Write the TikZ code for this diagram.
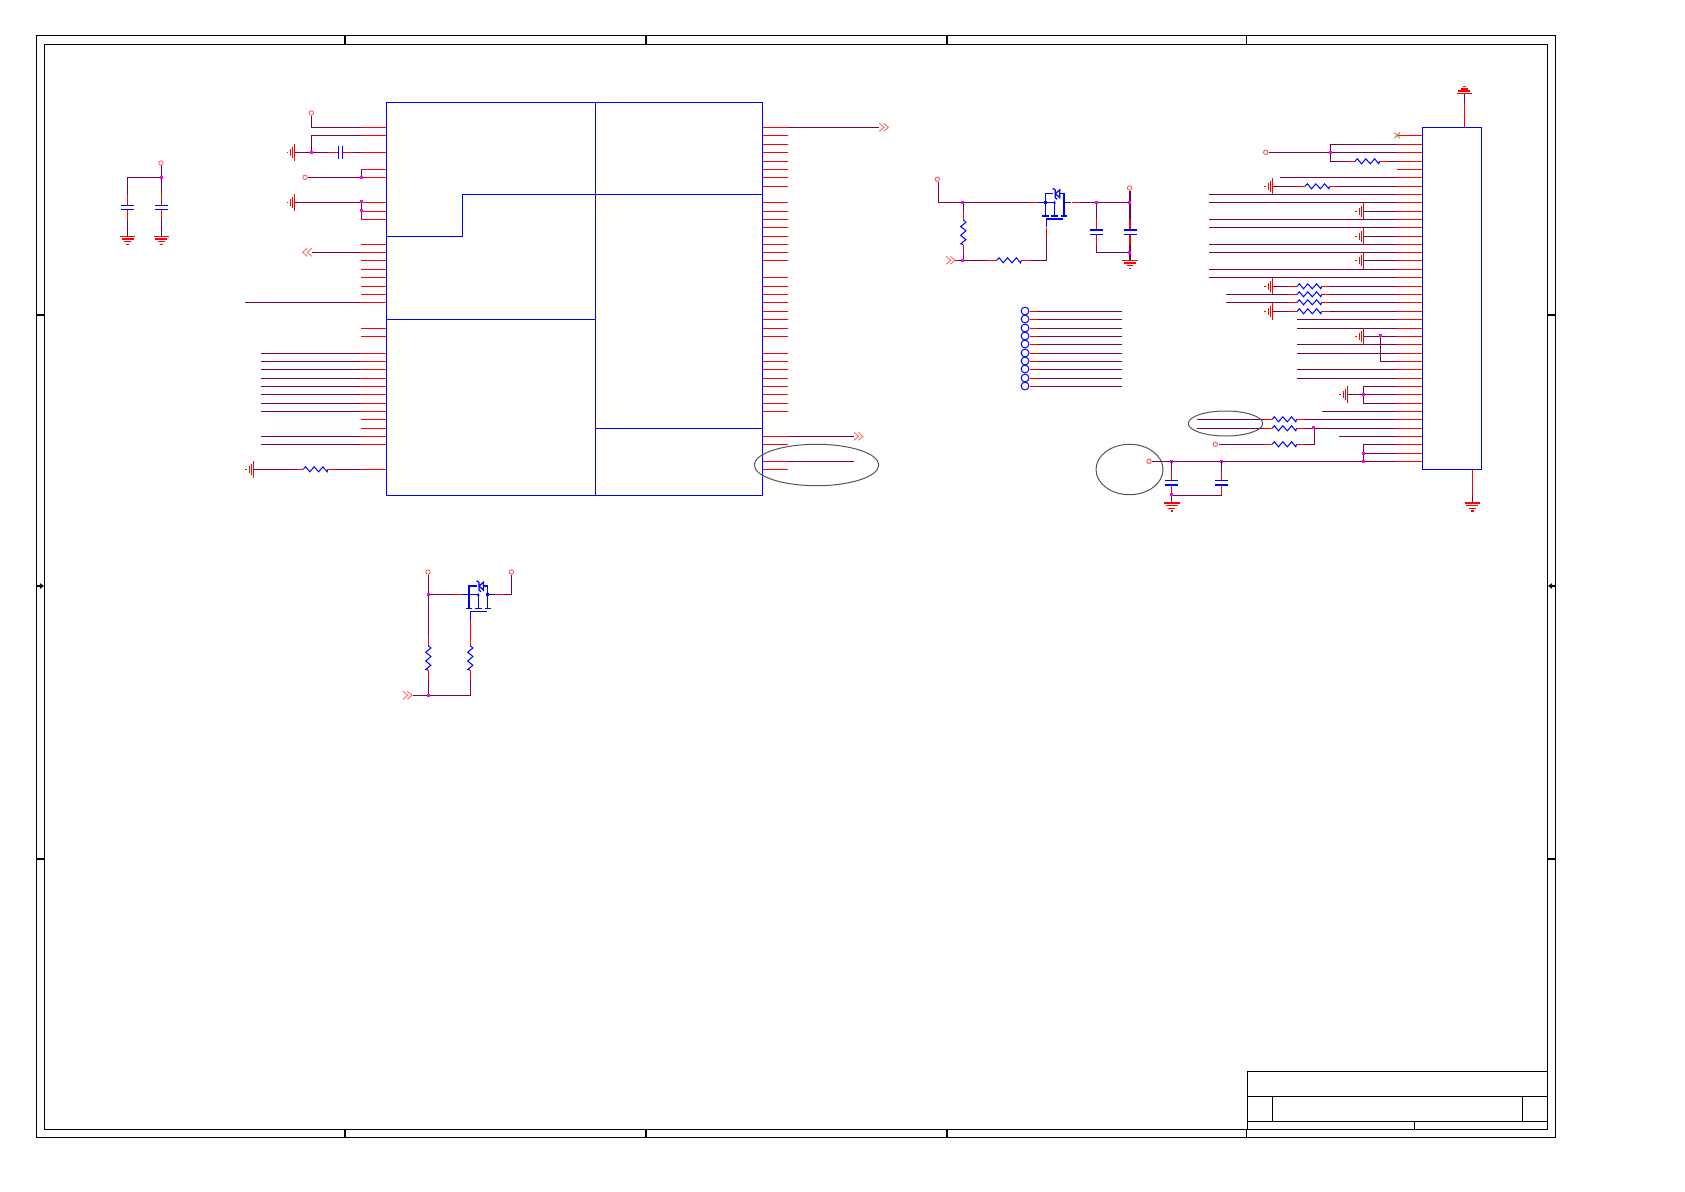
\documentclass[tikz,border=0pt]{standalone}
\definecolor{netc}{RGB}{122,0,72}
\definecolor{pinc}{RGB}{255,0,0}
\definecolor{partc}{RGB}{0,0,255}
\definecolor{dotc}{RGB}{255,0,255}
\definecolor{markc}{RGB}{255,90,90}
\definecolor{loopc}{RGB}{85,85,85}
\tikzset{
  x=1pt,y=-1pt,
  frameln/.style={draw=black,line width=1.25pt},
  net/.style={draw=netc,line width=1.25pt},
  pinln/.style={draw=pinc,line width=1.25pt},
  part/.style={draw=partc,line width=1.25pt},
  loopln/.style={draw=loopc,line width=1pt},
  hres/.pic={
    \fill[white] (-.5,-1.2) rectangle (25,1.2);
    \draw[pinln] (-8.3,0)--(0,0) (24.5,0)--(32.8,0);
    \draw[part,line width=1pt] (0,0)--(2.3,-2.5)--(6.5,2.5)--(10.8,-2.5)--(15.3,2.5)--(19.6,-2.5)--(23.8,2.5)--(24.5,0);},
  vres/.pic={
    \fill[white] (-1.2,-.5) rectangle (1.2,25);
    \draw[pinln] (0,-8.3)--(0,0) (0,24.5)--(0,32.8);
    \draw[part,line width=1pt] (0,0)--(2.6,2.3)--(-2.6,6.5)--(2.6,10.8)--(-2.6,15.3)--(2.6,19.6)--(-2.6,23.8)--(0,24.5);},
  vcap/.pic={
    \fill[white] (-1.2,0) rectangle (1.2,4.5);
    \draw[pinln] (0,-11)--(0,0) (0,4.5)--(0,14.5);
    \draw[part] (-6.5,0)--(6.5,0) (-6.5,4.5)--(6.5,4.5);},
  hcap/.pic={
    \fill[white] (0,-1.2) rectangle (4,1.2);
    \draw[pinln] (-10.6,0)--(0,0) (4,0)--(14.4,0);
    \draw[part] (0,-6.5)--(0,6.5) (4,-6.5)--(4,6.5);},
  gnddown/.pic={
    \draw[pinln] (-7.8,0)--(7.8,0) (-6,2.6)--(6,2.6) (-3.3,5.2)--(3.3,5.2) (-1.2,8)--(1.2,8);},
  gndup/.pic={
    \draw[pinln] (-7.8,0)--(7.8,0) (-6,-2.2)--(6,-2.2) (-3.3,-4.2)--(3.3,-4.2) (-1.2,-7)--(1.2,-7);},
  gndleft/.pic={
    \draw[pinln] (0,-8.3)--(0,8.3) (-2,-5.7)--(-2,5.7) (-4,-3.2)--(-4,3.2) (-7.3,-.8)--(-7.3,.8);},
  pwr/.pic={\draw[draw=markc,line width=.9pt] (0,0) circle (2.2);},
  chevleft/.pic={\draw[draw=markc,line width=.8pt] (4.7,-4)--(0,0)--(4.7,4) (9.3,-4)--(4.7,0)--(9.3,4);},
  chevright/.pic={\draw[draw=markc,line width=.8pt] (0,-4)--(4.7,0)--(0,4) (4.3,-4)--(9,0)--(4.3,4);},
  dotj/.pic={\fill[dotc] (-1.5,-1.5) rectangle (1.5,1.5);},
  dotb/.pic={\fill[partc] (-1.4,-1.4) rectangle (1.4,1.4);},
  pmos/.pic={
    \draw[part] (0,13.7)--(0,-8.7)--(7.5,-8.7) (13.5,-8.7)--(18.7,-8.7)--(18.7,13.7)
      (0,0)--(9.3,0)--(9.3,13.7) (18.7,0)--(26,0)
      (-3.2,13.7)--(3.2,13.7) (6.1,13.7)--(12.5,13.7) (15.5,13.7)--(21.9,13.7)
      (1.3,25)--(1.3,16.7)--(17.7,16.7);
    \draw[part] (7.5,-14)--(10,-12.3)--(10,-4.5)--(12,-3)
      (10,-8.7)--(14.5,-12.5)--(14.5,-4.5)--cycle;
    \pic at (0,0) {dotb}; \pic at (18.7,0) {dotb};
    \fill[partc] (9.3,-1.8)--(8,1.4)--(10.6,1.4)--cycle;},
}
\newcommand{\hw}[3]{\draw[net] (#1,#3)--(#2,#3);}
\newcommand{\lpin}[1]{\draw[pinln] (361,#1)--(386.3,#1);}
\newcommand{\rpin}[1]{\draw[pinln] (762.3,#1)--(787.7,#1);}
\newcommand{\cpin}[1]{\draw[pinln] (1397,#1)--(1422.3,#1);}
\begin{document}
\begin{tikzpicture}
\useasboundingbox (0,0) rectangle (1685,1191);
\fill[white] (0,0) rectangle (1685,1191);

% ---------- sheet frame
\draw[frameln] (36.4,35.3) rectangle (1555.3,1137.3);
\draw[frameln] (44.3,44.3) rectangle (1547.7,1129.3);
\foreach \tx in {345,646,947,1246.5}{
  \draw[frameln] (\tx,35.3)--(\tx,44.3) (\tx,1129.3)--(\tx,1137.3);}
\foreach \ty in {315,859}{
  \draw[frameln] (36.4,\ty)--(44.3,\ty) (1547.7,\ty)--(1555.3,\ty);}
\draw[frameln] (36.4,586)--(41,586) (1551,586)--(1555.3,586);
\fill[black] (44,586)--(39.8,583)--(39.8,589)--cycle;
\fill[black] (1548,586)--(1552.2,583)--(1552.2,589)--cycle;
% title block
\draw[frameln] (1247.3,1071.3)--(1547.7,1071.3) (1247.3,1071.3)--(1247.3,1129.3)
  (1247.3,1096.3)--(1547.7,1096.3) (1247.3,1121.3)--(1547.7,1121.3)
  (1272.3,1096.3)--(1272.3,1121.3) (1522.3,1096.3)--(1522.3,1121.3)
  (1414.3,1121.3)--(1414.3,1129.3);

% ---------- decoupling pair, top left
\draw[net] (161.4,165)--(161.4,236.3) (127.5,236.3)--(127.5,177.3)--(161.4,177.3);
\pic at (127.5,205.3) {vcap}; \pic at (161.4,205.3) {vcap};
\pic at (127.5,236.3) {gnddown}; \pic at (161.4,236.3) {gnddown};
\pic at (161,163) {pwr}; \pic at (161,177.3) {dotj};

% ---------- main IC
\foreach \y in {127.3,135.3,152.3,169.3,177.3,202.3,211.3,219.3,244.3,252.3,260.3,269.3,277.3,286.3,294.3,302.3,328.3,336.3,353.3,361.3,369.3,378.3,386.3,394.3,403.3,411.3,419.3,428.3,436.3,444.3,469.3}{\lpin{\y}}
\foreach \v in {112,136,163,187,214,238,262,289,337,364,388,412,439,463,487,511,562,589,613,637,664,688,715,739,790,814,838,865,889,913,940,964,1039,1063,1114,1138}{\rpin{\fpeval{90.3+\v/3}}}
\draw[part] (386.3,102.3) rectangle (762.3,495.3);
\draw[part] (595.3,102.3)--(595.3,495.3)
  (386.3,236.3)--(462.3,236.3)--(462.3,194.3)--(762.3,194.3)
  (386.3,319.3)--(595.3,319.3) (595.3,428.3)--(762.3,428.3);

% left side nets
\draw[net] (311.3,115.5)--(311.3,127.3)--(361,127.3);
\draw[net] (361,135.3)--(311.3,135.3)--(311.3,152.3);
\draw[net] (294.7,152.3)--(361,152.3);
\pic at (294.7,152.3) {gndleft};
\pic at (338.3,152.3) {hcap};
\pic at (311.3,113) {pwr}; \pic at (311,152.3) {dotj};
\draw[net] (308,177.3)--(361.3,177.3) (361.3,169.3)--(361.3,177.3);
\pic at (305,177.3) {pwr}; \pic at (361.3,177.3) {dotj};
\draw[net] (294.7,202.3)--(361.3,202.3) (361.3,202.3)--(361.3,219.3);
\pic at (294.7,202.3) {gndleft};
\pic at (361.3,201.8) {dotj}; \pic at (361.3,210.5) {dotj};
\hw{311.5}{361}{252.3}
\pic at (302.5,252.3) {chevleft};
\hw{245}{361}{302.3}
\foreach \y in {353.3,361.3,369.3,378.3,386.3,394.3,403.3,411.3,436.3,444.3}{\hw{261}{361}{\y}}
\hw{253.3}{361}{469.3}
\pic at (253.3,469.3) {gndleft};
\pic at (303.3,469.3) {hres};

% right side nets
\hw{787.7}{879}{127.3}
\pic at (879.3,127.3) {chevright};
\hw{787.7}{854}{436.3}
\pic at (854,436.3) {chevright};
\hw{787.7}{854}{461.6}
\draw[loopln] (816.5,465) ellipse (62.2 and 20.7);

% ---------- top switch
\draw[net] (938.3,182)--(938.3,202.3)--(1030,202.3);
\draw[pinln] (1030,202.3)--(1038,202.3);
\draw[part] (1038,202.3)--(1045.3,202.3);
\pic at (937.3,179.3) {pwr};
\draw[net] (963.3,202.3)--(963.3,260.3);
\pic at (963.3,220) {vres};
\draw[net] (954.5,260.3)--(1046.3,260.3)--(1046.3,235.3);
\draw[pinln] (1046.3,235.3)--(1046.3,228);
\pic at (946,260.3) {chevright};
\pic at (996.7,260.3) {hres};
\pic at (962.8,202.3) {dotj}; \pic at (962.8,260.3) {dotj};
\pic at (1045.3,202.3) {pmos};
\draw[pinln] (1071.7,202.3)--(1080,202.3);
\draw[net] (1080,202.3)--(1130,202.3) (1130,191)--(1130,260.3)
  (1096.3,202.3)--(1096.3,252.3)--(1130,252.3);
\pic at (1096.3,230) {vcap}; \pic at (1130,230) {vcap};
\pic at (1129.5,188) {pwr};
\pic at (1096.3,202.3) {dotj}; \pic at (1129.3,202.3) {dotj}; \pic at (1129.3,252.3) {dotj};
\pic at (1130,260.3) {gnddown};

% ---------- test points
\foreach \y in {311.3,319.3,328.3,336.3,344.3,353.3,361.3,369.3,378.3,386.3}{
  \hw{1038}{1121.7}{\y}
  \draw[pinln] (1029.7,\y)--(1038,\y);
  \draw[part,line width=1pt] (1025,\y-.3) circle (3.9);}

% ---------- connector
\foreach \y in {135.3,144.3,152.3,161.3,169.3,177.3,186.3,194.3,202.3,211.3,219.3,227.3,236.3,244.3,252.3,260.3,269.3,277.3,286.3,294.3,302.3,311.3,319.3,328.3,336.3,344.3,353.3,361.3,369.3,378.3,386.3,394.3,403.3,411.3,419.3,428.3,436.3,444.3,453.3,461.3}{\cpin{\y}}
\draw[part] (1422.3,127.3) rectangle (1481.3,469.3);
\draw[net] (1464.3,93.3)--(1464.3,103);
\draw[pinln] (1464.3,103)--(1464.3,127.3);
\pic at (1464.3,93.3) {gndup};
\draw[net] (1472.3,495)--(1472.3,503);
\draw[pinln] (1472.3,469.3)--(1472.3,495);
\pic at (1472.3,503) {gnddown};
\draw[draw=brown,line width=.9pt] (1394.6,132.6)--(1400,138) (1394.6,138)--(1400,132.6);

\draw[net] (1397,144.3)--(1330.3,144.3)--(1330.3,161.3)--(1397,161.3);
\hw{1269}{1397}{152.3}
\pic at (1265.7,152.3) {pwr}; \pic at (1330.3,152.3) {dotj};
\pic at (1355,161.3) {hres};
\hw{1280}{1397}{177.3}
\hw{1272.3}{1397}{186.3}
\pic at (1272.3,186.3) {gndleft}; \pic at (1305,186.3) {hres};
\foreach \y in {194.3,202.3,219.3,227.3,244.3,252.3,269.3,277.3}{\hw{1209}{1397}{\y}}
\foreach \y in {211.3,236.3,260.3}{
  \hw{1363.3}{1397}{\y}
  \pic at (1363.3,\y) {gndleft};}
\hw{1272.3}{1397}{286.3}
\pic at (1272.3,286.3) {gndleft}; \pic at (1297,286.3) {hres};
\hw{1226}{1397}{294.3}
\pic at (1297,294.3) {hres};
\hw{1226}{1397}{302.3}
\pic at (1297,302.3) {hres};
\hw{1272.3}{1397}{311.3}
\pic at (1272.3,311.3) {gndleft}; \pic at (1297,311.3) {hres};
\foreach \y in {319.3,328.3,344.3,353.3,369.3,378.3}{\hw{1297}{1397}{\y}}
\hw{1363.3}{1397}{336.3}
\pic at (1363.3,336.3) {gndleft};
\draw[net] (1380.3,336.3)--(1380.3,361.3)--(1397,361.3);
\pic at (1380.3,335.5) {dotj};
\draw[net] (1397,386.3)--(1363.3,386.3)--(1363.3,403.3)--(1397,403.3);
\hw{1347.3}{1397}{394.3}
\pic at (1347.3,394.3) {gndleft}; \pic at (1363.3,394.3) {dotj};
\hw{1322}{1397}{411.3}
\hw{1197}{1397}{419.3}
\pic at (1272,419.3) {hres};
\hw{1197}{1397}{428.3}
\pic at (1272,428.3) {hres};
\hw{1339}{1397}{436.3}
\draw[net] (1219,444.3)--(1314.3,444.3)--(1314.3,428.3);
\pic at (1215.3,444.3) {pwr};
\pic at (1272,444.3) {hres};
\pic at (1313.5,427.8) {dotj};
\draw[loopln] (1225.5,423.5) ellipse (37.2 and 12.5);
\draw[loopln] (1129.5,469.5) ellipse (33.5 and 25.2);
\draw[net] (1397,444.3)--(1363.3,444.3)--(1363.3,461.3) (1363.3,453.3)--(1397,453.3);
\hw{1152}{1397}{461.3}
\pic at (1149,461.3) {pwr};
\pic at (1171.7,461) {dotj}; \pic at (1221.3,461) {dotj};
\pic at (1363.3,453) {dotj}; \pic at (1363.3,461) {dotj};
\draw[net] (1171.7,461.3)--(1171.7,503) (1221.3,461.3)--(1221.3,495.3)--(1171.7,495.3);
\pic at (1171.7,480.5) {vcap}; \pic at (1221.3,480.5) {vcap};
\draw[pinln] (1221.3,485)--(1221.3,495.3);
\pic at (1171.7,494.7) {dotj};
\pic at (1171.7,503) {gnddown};

% ---------- bottom switch
\draw[net] (428.3,575)--(428.3,695.3);
\draw[net] (428.3,594.7)--(454,594.7);
\draw[pinln] (454,594.7)--(461.7,594.7);
\draw[part] (461.7,594.7)--(469,594.7);
\pic at (428,572) {pwr}; \pic at (428,594.7) {dotj};
\pic at (469,594.7) {pmos};
\draw[pinln] (495,594.7)--(504,594.7);
\draw[net] (504,594.7)--(511.3,594.7)--(511.3,575);
\pic at (511.3,572) {pwr};
\draw[net] (412.5,695.3)--(470.3,695.3)--(470.3,637);
\pic at (403,695.3) {chevright};
\pic at (428,695.3) {dotj};
\pic at (428.3,645.7) {vres};
\pic at (470.3,645.7) {vres};
\draw[pinln] (470.3,620)--(470.3,637.4);
\end{tikzpicture}
\end{document}
